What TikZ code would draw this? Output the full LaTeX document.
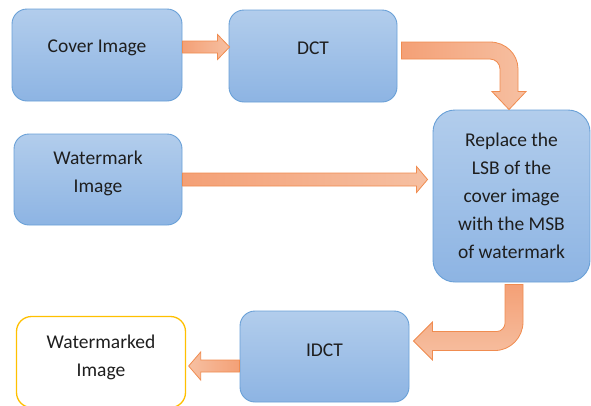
\documentclass[tikz,border=0pt]{standalone}
\usepackage{fontspec}
\setmainfont{Carlito}
\usetikzlibrary{calc}
\definecolor{boxtop}{RGB}{178,205,236}
\definecolor{boxbot}{RGB}{141,180,227}
\definecolor{boxline}{RGB}{105,160,215}
\definecolor{arrdark}{RGB}{244,160,118}
\definecolor{arrlight}{RGB}{246,192,162}
\definecolor{arrline}{RGB}{240,140,80}
\definecolor{yel}{RGB}{255,192,0}
\definecolor{txt}{RGB}{30,30,30}
\tikzset{
  bluebox/.style 2 args={draw=boxline, line width=0.9pt, rounded corners=15pt,
    top color=boxtop, bottom color=boxbot, minimum width=#1, minimum height=#2, inner sep=0pt},
  whitebox/.style 2 args={draw=yel, fill=white, line width=1.3pt, rounded corners=15pt,
    minimum width=#1, minimum height=#2, inner sep=0pt},
  lbl/.style={font=\fontsize{19.5}{28}\selectfont, text=txt, align=center, inner sep=0pt},
  arrh/.style={draw=arrline, line width=0.8pt, left color=arrdark, right color=arrlight, line join=miter},
  arrhl/.style={draw=arrline, line width=0.8pt, left color=arrlight, right color=arrdark, line join=miter},
  arrv/.style={draw=arrline, line width=0.8pt, top color=arrdark, bottom color=arrlight, line join=miter}
}
\begin{document}
\begin{tikzpicture}[x=1pt,y=-1pt]
\useasboundingbox (0,0) rectangle (591,405);
% boxes
\node[bluebox={170}{92}] (cover) at (97,55) {};
\node[bluebox={168}{92}] (dct) at (313,56) {};
\node[bluebox={168}{91}] (wm) at (98,179.5) {};
\node[bluebox={157}{172}, rounded corners=22pt] (rep) at (511.5,196) {};
\node[bluebox={169}{91}] (idct) at (324.5,356.5) {};
\node[whitebox={169}{91}] (wmd) at (101,362) {};
% labels
\node[lbl] (coverT) at ($(cover.center)+(0,-7)$) {Cover Image};
\node[lbl] (dctT) at ($(dct.center)+(0,-8)$) {DCT};
\node[lbl] (wmT) at ($(wm.center)+(0,-6)$) {Watermark\\Image};
\node[lbl] (repT) at ($(rep.center)+(0,0)$) {Replace the\\LSB of the\\cover image\\with the MSB\\of watermark};
\node[lbl] (idctT) at ($(idct.center)+(0,-6)$) {IDCT};
\node[lbl] (wmdT) at ($(wmd.center)+(0,-5)$) {Watermarked\\Image};
% arrow 1: cover -> dct
\coordinate (a1s) at ($(cover.east)+(0,-8)$);
\coordinate (a1e) at ($(dct.west)+(1,-9)$);
\path[arrh] ($(a1s)+(0,-6)$) -- ($(a1e)+(-12,-6)$) -- ($(a1e)+(-12,-12.5)$) -- (a1e)
  -- ($(a1e)+(-12,12.5)$) -- ($(a1e)+(-12,6)$) -- ($(a1s)+(0,6)$) -- cycle;
% arrow 3: watermark -> replace
\coordinate (a3s) at (wm.east);
\coordinate (a3e) at ($(rep.west |- wm.east)+(-5,0)$);
\path[arrh] ($(a3s)+(0,-6.5)$) -- ($(a3e)+(-11,-6.5)$) -- ($(a3e)+(-11,-13)$) -- (a3e)
  -- ($(a3e)+(-11,13)$) -- ($(a3e)+(-11,6.5)$) -- ($(a3s)+(0,6.5)$) -- cycle;
% arrow 5: idct -> watermarked
\coordinate (a5s) at ($(idct.west)+(0,9.5)$);
\coordinate (a5e) at ($(wmd.east)+(2.5,4)$);
\path[arrhl] ($(a5s)+(0,-6)$) -- ($(a5e)+(12,-6)$) -- ($(a5e)+(12,-14)$) -- (a5e)
  -- ($(a5e)+(12,14)$) -- ($(a5e)+(12,6)$) -- ($(a5s)+(0,6)$) -- cycle;
% arrow 2: dct -> replace (bent)
\coordinate (a2s) at ($(dct.east)+(4,-5.5)$);
\coordinate (a2e) at ($(rep.north)+(-2.5,0)$);
\coordinate (a2c) at (a2e |- a2s);
\path[arrh] ($(a2s)+(0,-8.5)$) -- ($(a2c)+(-19,-8.5)$)
  .. controls ($(a2c)+(-3.5,-8.5)$) and ($(a2c)+(9,3.5)$) .. ($(a2c)+(9,18.5)$)
  -- ($(a2e)+(9,-18)$) -- ($(a2e)+(17,-18)$) -- (a2e) -- ($(a2e)+(-17,-18)$)
  -- ($(a2e)+(-9,-18)$) -- ($(a2c)+(-9,18.5)$)
  .. controls ($(a2c)+(-9,13)$) and ($(a2c)+(-13.5,8.5)$) .. ($(a2c)+(-19,8.5)$)
  -- ($(a2s)+(0,8.5)$) -- cycle;
% arrow 4: replace -> idct (bent)
\coordinate (a4s) at ($(rep.south)+(2.5,2)$);
\coordinate (a4e) at ($(idct.east)+(4,-15.5)$);
\coordinate (a4c) at (a4s |- a4e);
\path[arrv] ($(a4s)+(9,0)$) -- ($(a4c)+(9,-19)$)
  .. controls ($(a4c)+(9,-3.5)$) and ($(a4c)+(-3.5,9.5)$) .. ($(a4c)+(-19,9.5)$)
  -- ($(a4e)+(19,9.5)$) -- ($(a4e)+(19,19)$) -- (a4e) -- ($(a4e)+(19,-19)$)
  -- ($(a4e)+(19,-9.5)$) -- ($(a4c)+(-17,-9.5)$)
  .. controls ($(a4c)+(-12.6,-9.5)$) and ($(a4c)+(-9,-13.9)$) .. ($(a4c)+(-9,-17.5)$)
  -- ($(a4s)+(-9,0)$) -- cycle;
\end{tikzpicture}
\end{document}
